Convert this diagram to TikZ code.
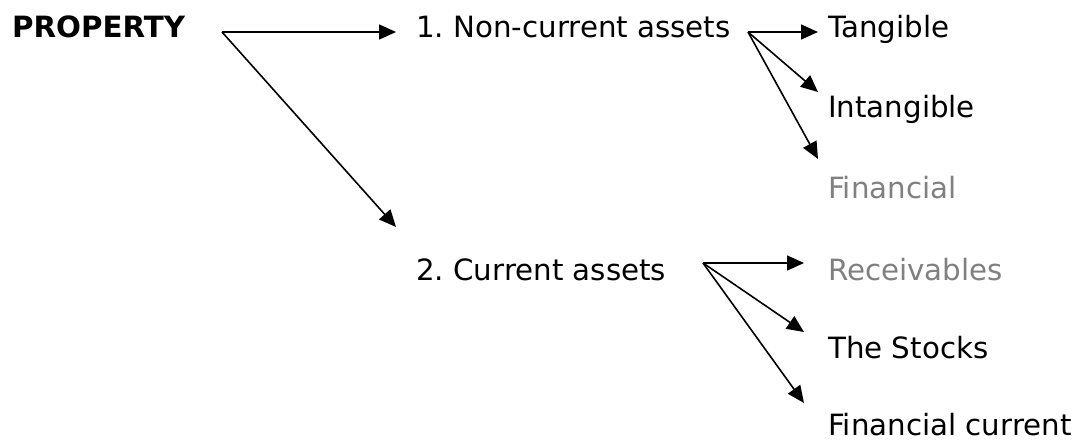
\documentclass[tikz,border=0pt]{standalone}
\usepackage{fontspec}
\setmainfont{DejaVu Sans}
\usetikzlibrary{arrows.meta,calc}
\definecolor{lightgraytext}{RGB}{128,128,128}
\frenchspacing
\tikzset{
  lbl/.style={inner sep=0pt, anchor=base west, font=\fontsize{29.3}{35}\selectfont},
  lblbold/.style={lbl, font=\fontsize{29.3}{35}\selectfont\bfseries},
  faded/.style={text=lightgraytext},
  conn/.style={line width=1.6pt, -{Triangle[length=17pt,width=15pt]}}
}
\begin{document}
\begin{tikzpicture}[x=1pt,y=-1pt]
\useasboundingbox (0,0) rectangle (1076,441);
% text nodes
\node[lblbold] (prop) at (12,38) {PROPERTY};
\node[lbl] (nca) at (416,38) {1. Non-current assets};
\node[lbl] (ca) at (416,280) {2. Current assets};
\node[lbl] (tang) at (828,38) {Tangible};
\node[lbl] (intang) at (828,118) {Intangible};
\node[lbl,faded] (fin) at (828,198) {Financial};
\node[lbl,faded] (rec) at (828,280) {Receivables};
\node[lbl] (stock) at (828,358) {The Stocks};
\node[lbl] (fincur) at (828,435) {Financial current};
% fork points
\coordinate (f0) at (222,32);
\coordinate (f1) at (748,32);
\coordinate (f2) at (703,263);
% connectors
\draw[conn] (f0) -- ($(nca.base west)+(-20,-6)$);
\draw[conn] (f0) -- ($(ca.base west)+(-20,-53)$);
\draw[conn] (f1) -- ($(tang.base west)+(-10,-6)$);
\draw[conn] (f1) -- ($(intang.base west)+(-10,-26)$);
\draw[conn] (f1) -- ($(fin.base west)+(-10,-39)$);
\draw[conn] (f2) -- ($(rec.base west)+(-24,-17)$);
\draw[conn] (f2) -- ($(stock.base west)+(-24,-26)$);
\draw[conn] (f2) -- ($(fincur.base west)+(-24,-32)$);
\end{tikzpicture}
\end{document}
